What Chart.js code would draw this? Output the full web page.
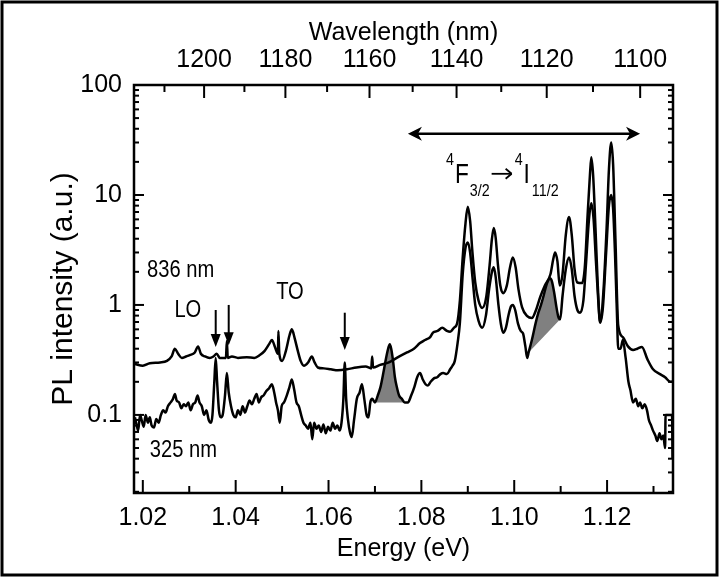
<!DOCTYPE html>
<html>
<head>
<meta charset="utf-8">
<script src="https://cdn.jsdelivr.net/npm/chart.js@4.4.0/dist/chart.umd.min.js"></script>
<style>
html, body { margin: 0; padding: 0; background: #fff; }
canvas { display: block; }
</style>
</head>
<body>
<canvas id="myChart" width="719" height="578"></canvas>
<script>
// tick labels
const xTickVals = [1.02, 1.04, 1.06, 1.08, 1.10, 1.12]
const wlTickVals = [1200, 1180, 1160, 1140, 1120, 1100]
const yTickVals = [0.1, 1, 10, 100]

// PL spectrum, 836 nm excitation (energy eV / intensity a.u.)
const e836 = [1.0183,1.0200,1.0215,1.0237,1.0252,1.0262,1.0269,1.0276,1.0284,1.0293,1.0301,1.0312,1.0319,1.0325,1.0334,1.0344,1.0352,1.0359,1.0366,1.0379,1.0381,1.0383,1.0392,1.0405,1.0424,1.0440,1.0452,1.0462,1.0472,1.0478,1.0485,1.0491,1.0492,1.0494,1.0500,1.0508,1.0516,1.0521,1.0527,1.0534,1.0540,1.0547,1.0556,1.0564,1.0570,1.0577,1.0590,1.0605,1.0620,1.0640,1.0660,1.0680,1.0692,1.0694,1.0696,1.0711,1.0730,1.0747,1.0769,1.0784,1.0797,1.0808,1.0819,1.0825,1.0835,1.0845,1.0855,1.0862,1.0870,1.0877,1.0883,1.0889,1.0895,1.0900,1.0905,1.0910,1.0916,1.0923,1.0931,1.0940,1.0947,1.0952,1.0956,1.0960,1.0965,1.0970,1.0976,1.0984,1.0991,1.0997,1.1003,1.1009,1.1017,1.1028,1.1038,1.1047,1.1056,1.1066,1.1078,1.1084,1.1088,1.1093,1.1098,1.1104,1.1111,1.1118,1.1124,1.1130,1.1136,1.1146,1.1152,1.1158,1.1163,1.1166,1.1170,1.1175,1.1180,1.1185,1.1192,1.1199,1.1204,1.1209,1.1213,1.1218,1.1224,1.1234,1.1245,1.1256,1.1265,1.1275,1.1287,1.1299,1.1314,1.1325,1.1336,1.1342]
const i836 = [0.29,0.28,0.295,0.30,0.31,0.34,0.40,0.36,0.33,0.34,0.35,0.37,0.42,0.36,0.34,0.33,0.34,0.36,0.33,0.33,0.47,0.33,0.34,0.33,0.335,0.33,0.35,0.38,0.44,0.48,0.41,0.36,0.58,0.36,0.31,0.38,0.53,0.60,0.50,0.38,0.31,0.28,0.30,0.34,0.30,0.27,0.265,0.26,0.255,0.26,0.27,0.275,0.265,0.34,0.27,0.285,0.30,0.33,0.37,0.40,0.45,0.48,0.51,0.56,0.58,0.62,0.58,0.57,0.62,0.68,1.1,2.7,5.5,7.8,5.8,3.0,1.6,1.1,0.94,1.2,2.3,4.0,5.0,4.1,2.3,1.5,1.28,1.5,2.2,2.7,2.2,1.4,0.95,0.79,0.76,0.90,1.18,1.5,1.9,2.6,3.0,2.5,1.5,1.9,4.3,6.3,4.3,2.1,1.6,1.58,2.2,6.5,15,22,15,5,1.5,0.70,1.3,5,17,30,19,4,0.65,0.51,0.42,0.39,0.40,0.415,0.32,0.26,0.235,0.22,0.20,0.20]

// PL spectrum, 325 nm excitation
const e325 = [1.0183,1.0187,1.0190,1.0194,1.0198,1.0202,1.0206,1.0211,1.0215,1.0219,1.0224,1.0229,1.0234,1.0239,1.0244,1.0249,1.0254,1.0260,1.0265,1.0269,1.0273,1.0278,1.0283,1.0288,1.0293,1.0298,1.0303,1.0308,1.0313,1.0318,1.0322,1.0327,1.0332,1.0337,1.0342,1.0347,1.0350,1.0354,1.0357,1.0360,1.0364,1.0368,1.0372,1.0377,1.0381,1.0385,1.0390,1.0395,1.0400,1.0405,1.0410,1.0415,1.0420,1.0425,1.0430,1.0435,1.0440,1.0445,1.0450,1.0455,1.0460,1.0466,1.0472,1.0478,1.0483,1.0487,1.0491,1.0495,1.0499,1.0504,1.0510,1.0516,1.0521,1.0526,1.0531,1.0536,1.0541,1.0546,1.0551,1.0556,1.0561,1.0565,1.0569,1.0574,1.0579,1.0584,1.0589,1.0594,1.0599,1.0604,1.0609,1.0614,1.0619,1.0624,1.0628,1.0632,1.0635,1.0638,1.0642,1.0646,1.0650,1.0655,1.0661,1.0667,1.0672,1.0677,1.0682,1.0686,1.0690,1.0694,1.0700,1.0706,1.0712,1.0718,1.0724,1.0729,1.0732,1.0735,1.0739,1.0743,1.0747,1.0752,1.0758,1.0764,1.0771,1.0778,1.0785,1.0791,1.0797,1.0803,1.0809,1.0814,1.0820,1.0827,1.0834,1.0841,1.0847,1.0855,1.0862,1.0867,1.0872,1.0878,1.0883,1.0889,1.0895,1.0900,1.0905,1.0910,1.0916,1.0923,1.0931,1.0939,1.0946,1.0952,1.0956,1.0960,1.0966,1.0971,1.0976,1.0982,1.0988,1.0993,1.0997,1.1002,1.1008,1.1014,1.1019,1.1024,1.1028,1.1031,1.1038,1.1046,1.1052,1.1057,1.1063,1.1069,1.1074,1.1077,1.1081,1.1086,1.1091,1.1095,1.1099,1.1104,1.1111,1.1118,1.1124,1.1130,1.1136,1.1142,1.1149,1.1155,1.1161,1.1166,1.1171,1.1176,1.1181,1.1185,1.1191,1.1198,1.1204,1.1209,1.1213,1.1217,1.1221,1.1224,1.1229,1.1234,1.1240,1.1246,1.1250,1.1256,1.1262,1.1267,1.1271,1.1276,1.1281,1.1286,1.1290,1.1295,1.1299,1.1304,1.1308,1.1313,1.1317,1.1321,1.1325,1.1326,1.1340,1.1341]
const i325 = [0.095,0.08,0.072,0.10,0.088,0.078,0.10,0.085,0.095,0.08,0.077,0.092,0.085,0.10,0.11,0.105,0.12,0.13,0.14,0.155,0.135,0.13,0.115,0.125,0.12,0.13,0.11,0.125,0.13,0.15,0.13,0.12,0.10,0.11,0.09,0.085,0.10,0.20,0.33,0.20,0.11,0.095,0.10,0.15,0.24,0.16,0.12,0.10,0.095,0.11,0.10,0.12,0.105,0.12,0.135,0.125,0.14,0.155,0.13,0.145,0.15,0.165,0.175,0.19,0.16,0.13,0.11,0.085,0.12,0.13,0.15,0.18,0.21,0.17,0.13,0.12,0.10,0.085,0.08,0.075,0.085,0.06,0.085,0.075,0.08,0.07,0.082,0.068,0.078,0.072,0.085,0.075,0.08,0.072,0.085,0.14,0.30,0.14,0.09,0.07,0.063,0.09,0.14,0.16,0.19,0.14,0.10,0.095,0.13,0.14,0.13,0.15,0.18,0.24,0.33,0.41,0.44,0.40,0.31,0.22,0.18,0.15,0.14,0.13,0.13,0.15,0.18,0.22,0.24,0.21,0.19,0.185,0.20,0.215,0.22,0.235,0.24,0.235,0.26,0.28,0.31,0.45,0.69,1.9,3.3,3.7,3.0,1.8,1.0,0.72,0.62,0.80,1.4,2.0,2.2,1.8,1.0,0.68,0.56,0.62,0.82,0.97,1.0,0.9,0.68,0.58,0.55,0.42,0.33,0.37,0.48,0.68,0.85,0.98,1.2,1.5,1.7,1.75,1.65,1.3,0.95,0.78,0.74,1.2,2.1,2.7,2.1,1.2,0.9,0.85,1.1,2.5,6,8.4,6,2.5,1.1,0.69,0.95,3,8,10,7.5,3,0.9,0.40,0.40,0.48,0.33,0.20,0.17,0.13,0.14,0.12,0.13,0.115,0.125,0.11,0.09,0.08,0.072,0.065,0.058,0.068,0.06,0.065,0.05,0.10,0.10,0.04]

// shaded peaks (energy ranges of the 325 nm curve)
const shadeRanges = [[1.0700, 1.0771], [1.1031, 1.1099]]

// down arrows: energy, top, tip
const arrowE = [1.0357, 1.0385, 1.0635]
const arrowTop = [0.9, 1.0, 0.85]
const arrowTip = [0.415, 0.43, 0.39]

const HC = 1239.84
const SANS = "'Liberation Sans', Arial, sans-serif"

function toPoints(xs, ys){
    return xs.map((x, i) => ({x: x, y: ys[i]}))
}

function shadePoints(range){
    let pts = []
    e325.forEach((e, i) => {
        if (e >= range[0] && e <= range[1]) pts.push({x: e, y: i325[i]})
    })
    return pts
}

function line(ctx, x1, y1, x2, y2){
    ctx.beginPath()
    ctx.moveTo(x1, y1)
    ctx.lineTo(x2, y2)
    ctx.stroke()
}

// narrow-looking text: squeeze horizontally
function narrowText(ctx, txt, px, py, align){
    const sx = 0.84
    const w = ctx.measureText(txt).width * sx
    let left = px
    if (align == 'center') left = px - w / 2
    ctx.save()
    ctx.translate(left, py)
    ctx.scale(sx, 1)
    ctx.textAlign = 'left'
    ctx.fillText(txt, 0, 0)
    ctx.restore()
    return w
}

const extras = {
    id: 'extras',
    beforeDraw(chart){
        const ctx = chart.ctx
        ctx.save()
        ctx.fillStyle = '#fff'
        ctx.fillRect(0, 0, chart.width, chart.height)
        ctx.restore()
    },
    afterDraw(chart){
        const ctx = chart.ctx
        const a = chart.chartArea
        const x = chart.scales.x
        const y = chart.scales.y
        ctx.save()
        ctx.strokeStyle = '#000'
        ctx.fillStyle = '#000'

        // axis box
        ctx.lineWidth = 2.5
        ctx.strokeRect(a.left, a.top, a.right - a.left, a.bottom - a.top)

        // inward ticks
        ctx.lineWidth = 2
        for (let k = 102; k <= 113; k++) {
            const px = x.getPixelForValue(k / 100)
            line(ctx, px, a.bottom, px, a.bottom - (k % 2 == 0 ? 13 : 7))
        }
        for (let w = 1210; w >= 1100; w -= 10) {
            const px = x.getPixelForValue(HC / w)
            if (px < a.left || px > a.right) continue
            line(ctx, px, a.top, px, a.top + (w % 20 == 0 ? 13 : 7))
        }
        for (let d of [0.01, 0.1, 1, 10]) {
            for (let m = 1; m <= 9; m++) {
                const v = d * m
                if (v < y.min || v > y.max) continue
                const py = y.getPixelForValue(v)
                const len = m == 1 ? 10 : 5
                line(ctx, a.left, py, a.left + len, py)
                line(ctx, a.right, py, a.right - len, py)
            }
        }

        // down arrows
        ctx.lineWidth = 2
        arrowE.forEach((e, i) => {
            const px = x.getPixelForValue(e)
            const top = y.getPixelForValue(arrowTop[i])
            const tip = y.getPixelForValue(arrowTip[i])
            line(ctx, px, top, px, tip - 10)
            ctx.beginPath()
            ctx.moveTo(px, tip)
            ctx.lineTo(px - 5, tip - 13)
            ctx.lineTo(px + 5, tip - 13)
            ctx.closePath()
            ctx.fill()
        })

        // double arrow over the 4F3/2 -> 4I11/2 band
        const ay = y.getPixelForValue(36)
        const ax1 = x.getPixelForValue(1.0771)
        const ax2 = x.getPixelForValue(1.1271)
        ctx.lineWidth = 2.5
        line(ctx, ax1 + 4, ay, ax2 - 4, ay)
        ;[[ax1, 1], [ax2, -1]].forEach(([px, s]) => {
            ctx.beginPath()
            ctx.moveTo(px, ay)
            ctx.lineTo(px + s * 14, ay - 7)
            ctx.lineTo(px + s * 10, ay)
            ctx.lineTo(px + s * 14, ay + 7)
            ctx.closePath()
            ctx.fill()
        })

        // text labels
        ctx.textBaseline = 'middle'
        ctx.font = '24px ' + SANS
        narrowText(ctx, '836 nm', x.getPixelForValue(1.0209), y.getPixelForValue(2.08), 'left')
        narrowText(ctx, '325 nm', x.getPixelForValue(1.0215), y.getPixelForValue(0.048), 'left')
        narrowText(ctx, 'LO', x.getPixelForValue(1.0297), y.getPixelForValue(0.9), 'center')
        narrowText(ctx, 'TO', x.getPixelForValue(1.0517), y.getPixelForValue(1.31), 'center')

        // 4F3/2 -> 4I11/2
        ctx.textBaseline = 'alphabetic'
        let tx = x.getPixelForValue(1.0853)
        const ty = y.getPixelForValue(12.9)
        const big = '27px ' + SANS
        const small = '17px ' + SANS
        ctx.font = small
        tx += narrowText(ctx, '4', tx, ty - 18, 'left') + 1
        ctx.font = big
        tx += narrowText(ctx, 'F', tx, ty, 'left') + 1
        ctx.font = small
        tx += narrowText(ctx, '3/2', tx, ty + 13, 'left') + 2
        ctx.lineWidth = 1.8
        line(ctx, tx, ty - 9, tx + 20, ty - 9)
        line(ctx, tx + 20, ty - 9, tx + 14, ty - 14)
        line(ctx, tx + 20, ty - 9, tx + 14, ty - 4)
        tx += 23
        tx += narrowText(ctx, '4', tx, ty - 18, 'left') + 1
        ctx.font = big
        tx += narrowText(ctx, 'I', tx, ty, 'left') + 2
        ctx.font = small
        narrowText(ctx, '11/2', tx, ty + 13, 'left')

        // outer frame
        ctx.lineWidth = 3
        ctx.strokeRect(2, 2, 715, 573)
        ctx.restore()
    }
}

function onLoad(){
    Chart.defaults.color = '#000'
    Chart.defaults.font.family = SANS
    const xMin = 1.0181, xMax = 1.1342
    let datasets = [
        {data: toPoints(e836, i836), borderColor: '#000', borderWidth: 2.5, pointRadius: 0, showLine: true, fill: false, cubicInterpolationMode: 'monotone'},
        {data: toPoints(e325, i325), borderColor: '#000', borderWidth: 2.5, pointRadius: 0, showLine: true, fill: false, cubicInterpolationMode: 'monotone'}
    ]
    shadeRanges.forEach(r => {
        datasets.push({data: shadePoints(r), borderWidth: 0, borderColor: 'rgba(0,0,0,0)', backgroundColor: '#808080', pointRadius: 0, showLine: true, fill: 'shape', cubicInterpolationMode: 'monotone'})
    })
    const ctx = document.getElementById('myChart').getContext('2d')
    const myChart = new Chart(ctx, {
        type: 'scatter',
        data: {datasets: datasets},
        options: {
            responsive: false,
            animation: false,
            devicePixelRatio: 1,
            layout: {padding: {left: 0, right: 46, top: 0, bottom: 0}},
            plugins: {legend: {display: false}, tooltip: {enabled: false}},
            scales: {
                x: {
                    type: 'linear', position: 'bottom', min: xMin, max: xMax,
                    afterBuildTicks: s => { s.ticks = xTickVals.map(v => ({value: v})) },
                    afterFit: s => { s.height = 85 },
                    grid: {display: false, drawTicks: false},
                    border: {display: false},
                    ticks: {font: {size: 25}, padding: 10, maxRotation: 0, autoSkip: false, callback: v => v.toFixed(2)},
                    title: {display: true, text: 'Energy (eV)', font: {size: 25}, padding: {top: 14, bottom: 14}}
                },
                x2: {
                    type: 'linear', position: 'top', min: xMin, max: xMax,
                    afterBuildTicks: s => { s.ticks = wlTickVals.map(w => ({value: HC / w})) },
                    afterFit: s => { s.height = 85 },
                    grid: {display: false, drawTicks: false},
                    border: {display: false},
                    ticks: {font: {size: 25}, padding: 10, maxRotation: 0, autoSkip: false, callback: v => Math.round(HC / v)},
                    title: {display: true, text: 'Wavelength (nm)', font: {size: 25}, padding: {top: 18, bottom: 18}}
                },
                y: {
                    type: 'logarithmic', position: 'left', min: 0.0195, max: 100,
                    afterBuildTicks: s => { s.ticks = yTickVals.map(v => ({value: v})) },
                    afterFit: s => { s.width = 134 },
                    grid: {display: false, drawTicks: false},
                    border: {display: false},
                    ticks: {font: {size: 25}, padding: 12, autoSkip: false, callback: v => String(v)},
                    title: {display: true, text: 'PL intensity (a.u.)', font: {size: 30}, padding: {top: 46, bottom: 46}}
                }
            }
        },
        plugins: [extras]
    })
}

onLoad()
</script>
</body>
</html>
